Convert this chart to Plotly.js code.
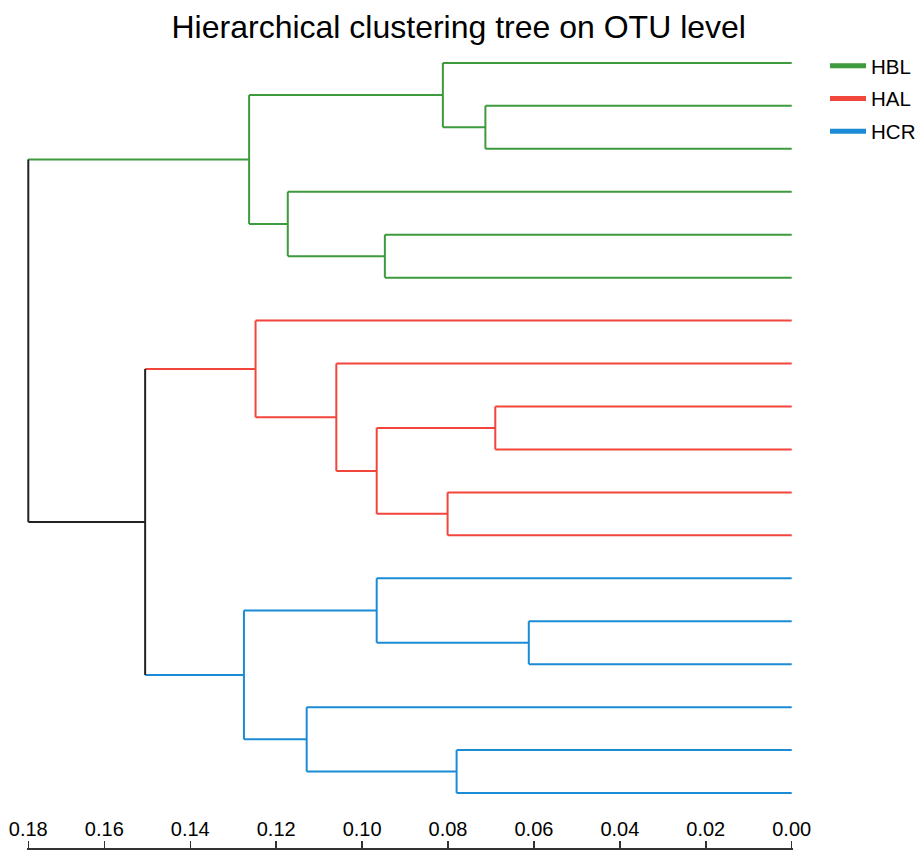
<!DOCTYPE html>
<html>
<head>
<meta charset="utf-8">
<script src="https://cdn.plot.ly/plotly-3.0.1.min.js"></script>
<style>html,body{margin:0;padding:0;background:#fff;}#chart{width:923px;height:852px;}</style>
</head>
<body>
<div id="chart"></div>
<script>
// Leaves in display order (top to bottom) and their groups
const leafGroup = ["HBL","HBL","HBL","HBL","HBL","HBL",
                   "HAL","HAL","HAL","HAL","HAL","HAL",
                   "HCR","HCR","HCR","HCR","HCR","HCR"];
// hclust-style merges: negative = leaf index (1-based), positive = earlier merge step
const mergeLeft   = [-2, -1, -5, -4, 2, -9, -11, 6, -8, -7, -14, -13, -17, -16, 12, 10, 5];
const mergeRight  = [-3,  1, -6,  3, 4, -10, -12, 7,  8,  9, -15,  11, -18,  13, 14, 15, 16];
const mergeHeight = [0.0713, 0.0812, 0.0947, 0.1173, 0.1263,
                     0.0690, 0.0801, 0.0966, 0.1060, 0.1248,
                     0.0612, 0.0966, 0.0780, 0.1129, 0.1275,
                     0.1505, 0.1777];
const groupNames  = ["HBL","HAL","HCR"];
const groupColors = {"HBL":"#3d9a3d","HAL":"#f2453b","HCR":"#1b8bd6"};
const tickValsBase = [0.16,0.14,0.12,0.10,0.08,0.06,0.04,0.02,0.00];
const tickTextTop = "0.18";

const nLeaves = leafGroup.length;
function leafY(i){ return nLeaves - i + 1; }

const nodes = {};
function info(id){
  if (id < 0){
    const i = -id;
    return {h:0, y:leafY(i), g:leafGroup[i-1]};
  }
  return nodes[id];
}
for (let k=0;k<mergeLeft.length;k++){
  const a = info(mergeLeft[k]), b = info(mergeRight[k]);
  nodes[k+1] = {h:mergeHeight[k], y:(a.y+b.y)/2, g:(a.g===b.g)?a.g:null, a:a, b:b};
}

const segs = {};
function addSeg(key,x0,y0,x1,y1){
  if(!segs[key]) segs[key]={x:[],y:[]};
  segs[key].x.push(x0,x1,null); segs[key].y.push(y0,y1,null);
}
for (let k=1;k<=mergeLeft.length;k++){
  const n = nodes[k];
  addSeg(n.g || "none", n.h, n.a.y, n.h, n.b.y);
  [n.a,n.b].forEach(c=>{ addSeg(c.g||"none", n.h, c.y, c.h, c.y); });
}

const traces = [];
Object.keys(segs).forEach(key=>{
  traces.push({type:"scatter",mode:"lines",x:segs[key].x,y:segs[key].y,
    line:{color: key==="none" ? "#222222" : groupColors[key], width:2},
    showlegend:false, hoverinfo:"skip"});
});
groupNames.forEach(g=>{
  traces.push({type:"scatter",mode:"lines",x:[null],y:[null],name:g,legendgroup:g,
    line:{color:groupColors[g],width:5},showlegend:true});
});

const rootH = mergeHeight[mergeHeight.length-1];
const tickvals = [rootH].concat(tickValsBase);
const ticktext = [tickTextTop].concat(tickValsBase.map(v=>v.toFixed(2)));

const layout = {
  width:923, height:852,
  margin:{l:27, r:130, t:50, b:4, autoexpand:false},
  paper_bgcolor:"#ffffff", plot_bgcolor:"#ffffff",
  font:{family:"Liberation Sans, Arial, sans-serif", color:"#000"},
  title:{text:"Hierarchical clustering tree on OTU level", x:0.497, xanchor:"center",
         xref:"container", y:0.968, yanchor:"middle", font:{size:32, color:"#000"}},
  xaxis:{range:[rootH+0.0003,-0.0003], anchor:"free", position:0, side:"top",
         tickvals:tickvals, ticktext:ticktext, ticks:"outside", ticklen:7, tickwidth:1.5,
         tickcolor:"#333", showline:true, linecolor:"#333", linewidth:1.5,
         ticklabelstandoff:-3,
         showgrid:false, zeroline:false, tickfont:{size:20, color:"#000"}},
  yaxis:{range:[-0.28,18.3], visible:false, showgrid:false, zeroline:false},
  legend:{x:1.0418, xanchor:"left", y:1.005, yanchor:"top", font:{size:20.5, color:"#000"},
          bgcolor:"rgba(0,0,0,0)", tracegroupgap:3, itemwidth:36}
};
Plotly.newPlot("chart", traces, layout, {displayModeBar:false, staticPlot:true});
</script>
</body>
</html>
